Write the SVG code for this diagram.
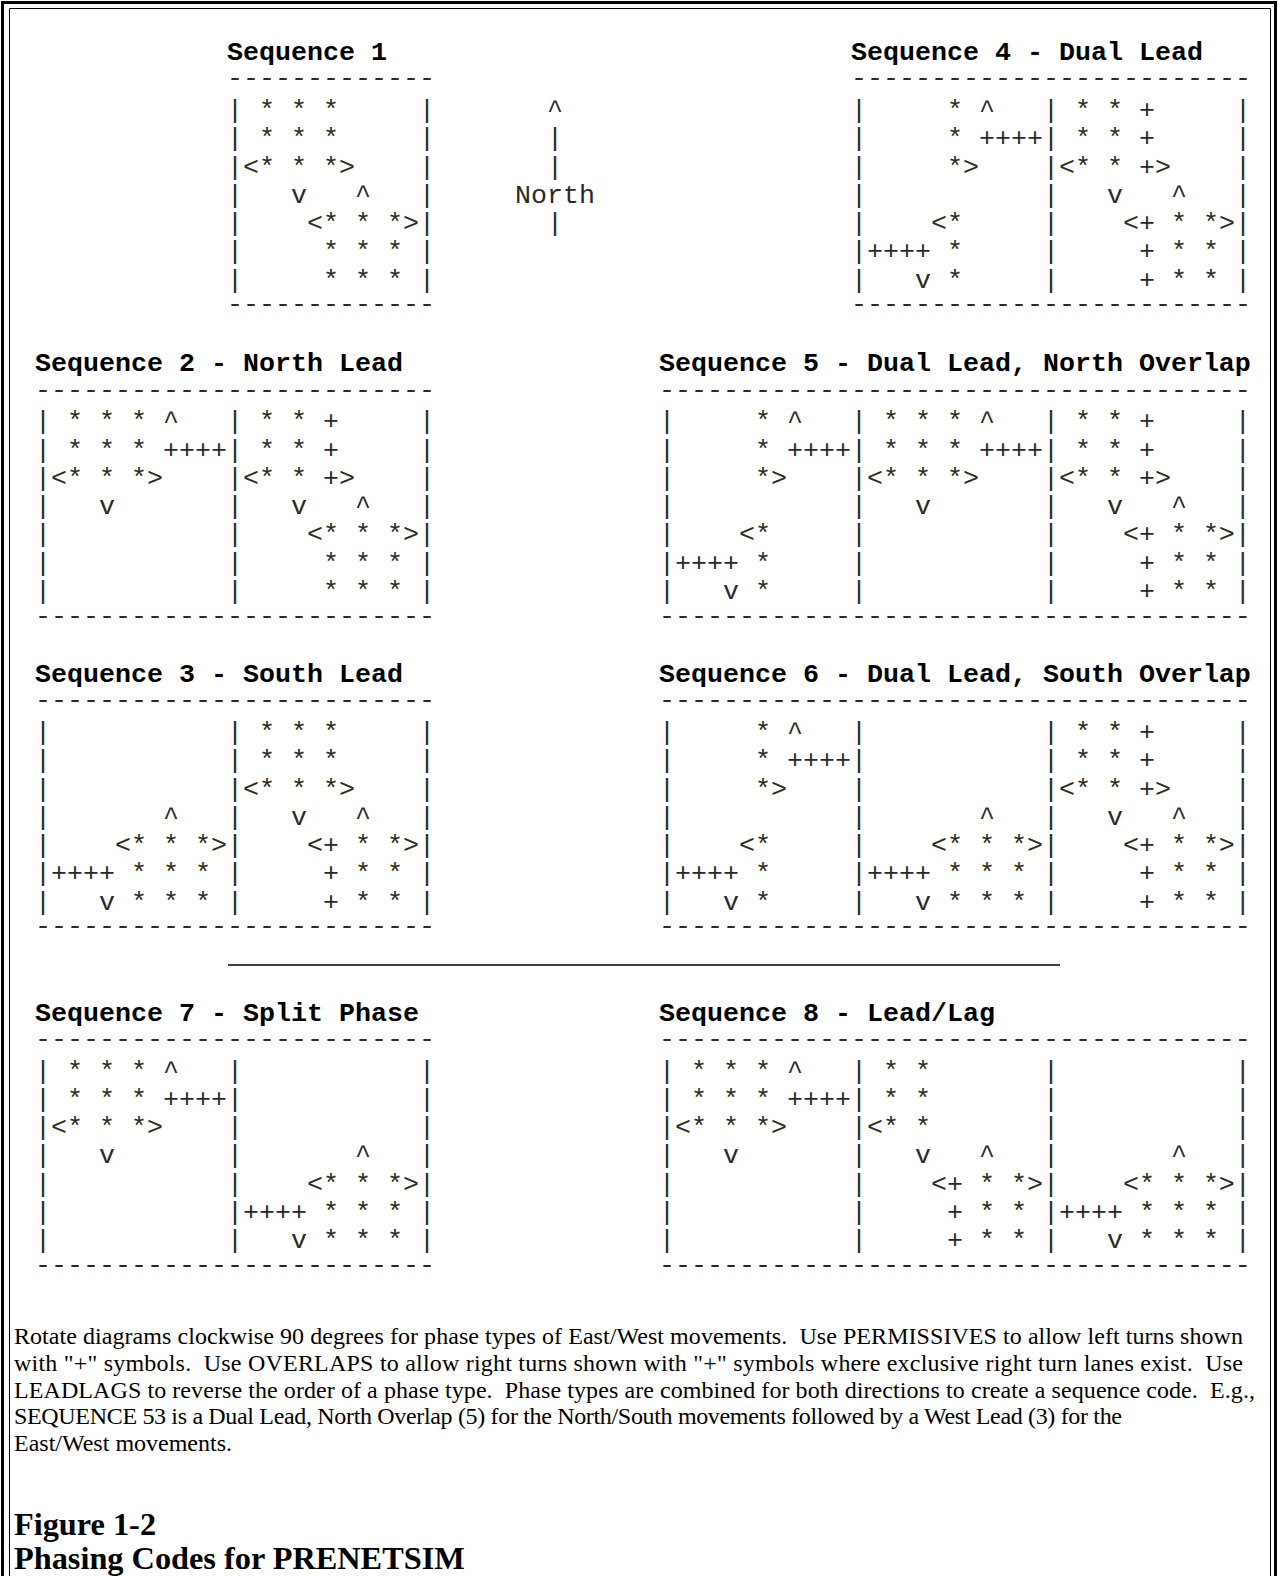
<svg xmlns="http://www.w3.org/2000/svg" width="1278" height="1576" viewBox="0 0 1278 1576">
<style>
text { white-space: pre; }
.m { font-family: "Liberation Mono", "Courier New", monospace; font-size: 26.67px; fill: #2a2a2a; }
.t { font-family: "Liberation Mono", "Courier New", monospace; font-size: 26.67px; font-weight: bold; fill: #000; }
.p { font-family: "Liberation Serif", "Times New Roman", serif; font-size: 24px; fill: #000; }
.h { font-family: "Liberation Serif", "Times New Roman", serif; font-size: 32.3px; font-weight: bold; fill: #000; }
.frame { fill: none; stroke: #000; }
</style>
<rect width="1278" height="1576" fill="#fff"/>
<g id="frame">
<path class="frame" d="M2.5,1576 V2.5 H1275.5 V1576" stroke-width="3"/>
<path class="frame" d="M9.5,1576 V8.5 H1270.5 V1576" stroke-width="1"/>
</g>

<g id="seq1">
<text class="t" x="227" y="60">Sequence 1</text>
<text class="m" x="227" y="86.4" xml:space="preserve">-------------</text>
<text class="m" x="227" y="118.15" xml:space="preserve">| * * *     |</text>
<text class="m" x="227" y="146.4" xml:space="preserve">| * * *     |</text>
<text class="m" x="227" y="174.65" xml:space="preserve">|&lt;* * *&gt;    |</text>
<text class="m" x="227" y="202.9" xml:space="preserve">|   v   ^   |</text>
<text class="m" x="227" y="231.15" xml:space="preserve">|    &lt;* * *&gt;|</text>
<text class="m" x="227" y="259.4" xml:space="preserve">|     * * * |</text>
<text class="m" x="227" y="287.65" xml:space="preserve">|     * * * |</text>
<text class="m" x="227" y="312.4" xml:space="preserve">-------------</text>
</g>

<g id="north">
<text class="m" x="547" y="118.15">^</text>
<text class="m" x="547" y="146.4">|</text>
<text class="m" x="547" y="174.65">|</text>
<text class="m" x="515" y="202.9">North</text>
<text class="m" x="547" y="231.15">|</text>
</g>

<g id="seq4">
<text class="t" x="851" y="60">Sequence 4 - Dual Lead</text>
<text class="m" x="851" y="86.4" xml:space="preserve">-------------------------</text>
<text class="m" x="851" y="118.15" xml:space="preserve">|     * ^   | * * +     |</text>
<text class="m" x="851" y="146.4" xml:space="preserve">|     * ++++| * * +     |</text>
<text class="m" x="851" y="174.65" xml:space="preserve">|     *&gt;    |&lt;* * +&gt;    |</text>
<text class="m" x="851" y="202.9" xml:space="preserve">|           |   v   ^   |</text>
<text class="m" x="851" y="231.15" xml:space="preserve">|    &lt;*     |    &lt;+ * *&gt;|</text>
<text class="m" x="851" y="259.4" xml:space="preserve">|++++ *     |     + * * |</text>
<text class="m" x="851" y="287.65" xml:space="preserve">|   v *     |     + * * |</text>
<text class="m" x="851" y="312.4" xml:space="preserve">-------------------------</text>
</g>

<g id="seq2">
<text class="t" x="35" y="371.3">Sequence 2 - North Lead</text>
<text class="m" x="35" y="397.7" xml:space="preserve">-------------------------</text>
<text class="m" x="35" y="429.45" xml:space="preserve">| * * * ^   | * * +     |</text>
<text class="m" x="35" y="457.7" xml:space="preserve">| * * * ++++| * * +     |</text>
<text class="m" x="35" y="485.95" xml:space="preserve">|&lt;* * *&gt;    |&lt;* * +&gt;    |</text>
<text class="m" x="35" y="514.2" xml:space="preserve">|   v       |   v   ^   |</text>
<text class="m" x="35" y="542.45" xml:space="preserve">|           |    &lt;* * *&gt;|</text>
<text class="m" x="35" y="570.7" xml:space="preserve">|           |     * * * |</text>
<text class="m" x="35" y="598.95" xml:space="preserve">|           |     * * * |</text>
<text class="m" x="35" y="623.7" xml:space="preserve">-------------------------</text>
</g>

<g id="seq5">
<text class="t" x="659" y="371.3">Sequence 5 - Dual Lead, North Overlap</text>
<text class="m" x="659" y="397.7" xml:space="preserve">-------------------------------------</text>
<text class="m" x="659" y="429.45" xml:space="preserve">|     * ^   | * * * ^   | * * +     |</text>
<text class="m" x="659" y="457.7" xml:space="preserve">|     * ++++| * * * ++++| * * +     |</text>
<text class="m" x="659" y="485.95" xml:space="preserve">|     *&gt;    |&lt;* * *&gt;    |&lt;* * +&gt;    |</text>
<text class="m" x="659" y="514.2" xml:space="preserve">|           |   v       |   v   ^   |</text>
<text class="m" x="659" y="542.45" xml:space="preserve">|    &lt;*     |           |    &lt;+ * *&gt;|</text>
<text class="m" x="659" y="570.7" xml:space="preserve">|++++ *     |           |     + * * |</text>
<text class="m" x="659" y="598.95" xml:space="preserve">|   v *     |           |     + * * |</text>
<text class="m" x="659" y="623.7" xml:space="preserve">-------------------------------------</text>
</g>

<g id="seq3">
<text class="t" x="35" y="682">Sequence 3 - South Lead</text>
<text class="m" x="35" y="708.4" xml:space="preserve">-------------------------</text>
<text class="m" x="35" y="740.15" xml:space="preserve">|           | * * *     |</text>
<text class="m" x="35" y="768.4" xml:space="preserve">|           | * * *     |</text>
<text class="m" x="35" y="796.65" xml:space="preserve">|           |&lt;* * *&gt;    |</text>
<text class="m" x="35" y="824.9" xml:space="preserve">|       ^   |   v   ^   |</text>
<text class="m" x="35" y="853.15" xml:space="preserve">|    &lt;* * *&gt;|    &lt;+ * *&gt;|</text>
<text class="m" x="35" y="881.4" xml:space="preserve">|++++ * * * |     + * * |</text>
<text class="m" x="35" y="909.65" xml:space="preserve">|   v * * * |     + * * |</text>
<text class="m" x="35" y="934.4" xml:space="preserve">-------------------------</text>
</g>

<g id="seq6">
<text class="t" x="659" y="682">Sequence 6 - Dual Lead, South Overlap</text>
<text class="m" x="659" y="708.4" xml:space="preserve">-------------------------------------</text>
<text class="m" x="659" y="740.15" xml:space="preserve">|     * ^   |           | * * +     |</text>
<text class="m" x="659" y="768.4" xml:space="preserve">|     * ++++|           | * * +     |</text>
<text class="m" x="659" y="796.65" xml:space="preserve">|     *&gt;    |           |&lt;* * +&gt;    |</text>
<text class="m" x="659" y="824.9" xml:space="preserve">|           |       ^   |   v   ^   |</text>
<text class="m" x="659" y="853.15" xml:space="preserve">|    &lt;*     |    &lt;* * *&gt;|    &lt;+ * *&gt;|</text>
<text class="m" x="659" y="881.4" xml:space="preserve">|++++ *     |++++ * * * |     + * * |</text>
<text class="m" x="659" y="909.65" xml:space="preserve">|   v *     |   v * * * |     + * * |</text>
<text class="m" x="659" y="934.4" xml:space="preserve">-------------------------------------</text>
</g>

<g id="rule">
<line x1="228" y1="965" x2="1060" y2="965" stroke="#000" stroke-width="1.5"/>
</g>

<g id="seq7">
<text class="t" x="35" y="1020.5">Sequence 7 - Split Phase</text>
<text class="m" x="35" y="1046.9" xml:space="preserve">-------------------------</text>
<text class="m" x="35" y="1078.65" xml:space="preserve">| * * * ^   |           |</text>
<text class="m" x="35" y="1106.9" xml:space="preserve">| * * * ++++|           |</text>
<text class="m" x="35" y="1135.15" xml:space="preserve">|&lt;* * *&gt;    |           |</text>
<text class="m" x="35" y="1163.4" xml:space="preserve">|   v       |       ^   |</text>
<text class="m" x="35" y="1191.65" xml:space="preserve">|           |    &lt;* * *&gt;|</text>
<text class="m" x="35" y="1219.9" xml:space="preserve">|           |++++ * * * |</text>
<text class="m" x="35" y="1248.15" xml:space="preserve">|           |   v * * * |</text>
<text class="m" x="35" y="1272.9" xml:space="preserve">-------------------------</text>
</g>

<g id="seq8">
<text class="t" x="659" y="1020.5">Sequence 8 - Lead/Lag</text>
<text class="m" x="659" y="1046.9" xml:space="preserve">-------------------------------------</text>
<text class="m" x="659" y="1078.65" xml:space="preserve">| * * * ^   | * *       |           |</text>
<text class="m" x="659" y="1106.9" xml:space="preserve">| * * * ++++| * *       |           |</text>
<text class="m" x="659" y="1135.15" xml:space="preserve">|&lt;* * *&gt;    |&lt;* *       |           |</text>
<text class="m" x="659" y="1163.4" xml:space="preserve">|   v       |   v   ^   |       ^   |</text>
<text class="m" x="659" y="1191.65" xml:space="preserve">|           |    &lt;+ * *&gt;|    &lt;* * *&gt;|</text>
<text class="m" x="659" y="1219.9" xml:space="preserve">|           |     + * * |++++ * * * |</text>
<text class="m" x="659" y="1248.15" xml:space="preserve">|           |     + * * |   v * * * |</text>
<text class="m" x="659" y="1272.9" xml:space="preserve">-------------------------------------</text>
</g>

<g id="notes">
<text class="p" x="14" y="1344" textLength="1229" lengthAdjust="spacing" xml:space="preserve">Rotate diagrams clockwise 90 degrees for phase types of East/West movements.  Use PERMISSIVES to allow left turns shown</text>
<text class="p" x="14" y="1371" textLength="1229" lengthAdjust="spacing" xml:space="preserve">with "+" symbols.  Use OVERLAPS to allow right turns shown with "+" symbols where exclusive right turn lanes exist.  Use</text>
<text class="p" x="14" y="1398" textLength="1241" lengthAdjust="spacing" xml:space="preserve">LEADLAGS to reverse the order of a phase type.  Phase types are combined for both directions to create a sequence code.  E.g.,</text>
<text class="p" x="14" y="1424" textLength="1108" lengthAdjust="spacing" xml:space="preserve">SEQUENCE 53 is a Dual Lead, North Overlap (5) for the North/South movements followed by a West Lead (3) for the</text>
<text class="p" x="14" y="1451" xml:space="preserve">East/West movements.</text>
</g>

<g id="caption">
<text class="h" x="14" y="1535">Figure 1-2</text>
<text class="h" x="14" y="1569">Phasing Codes for PRENETSIM</text>
</g>
</svg>
